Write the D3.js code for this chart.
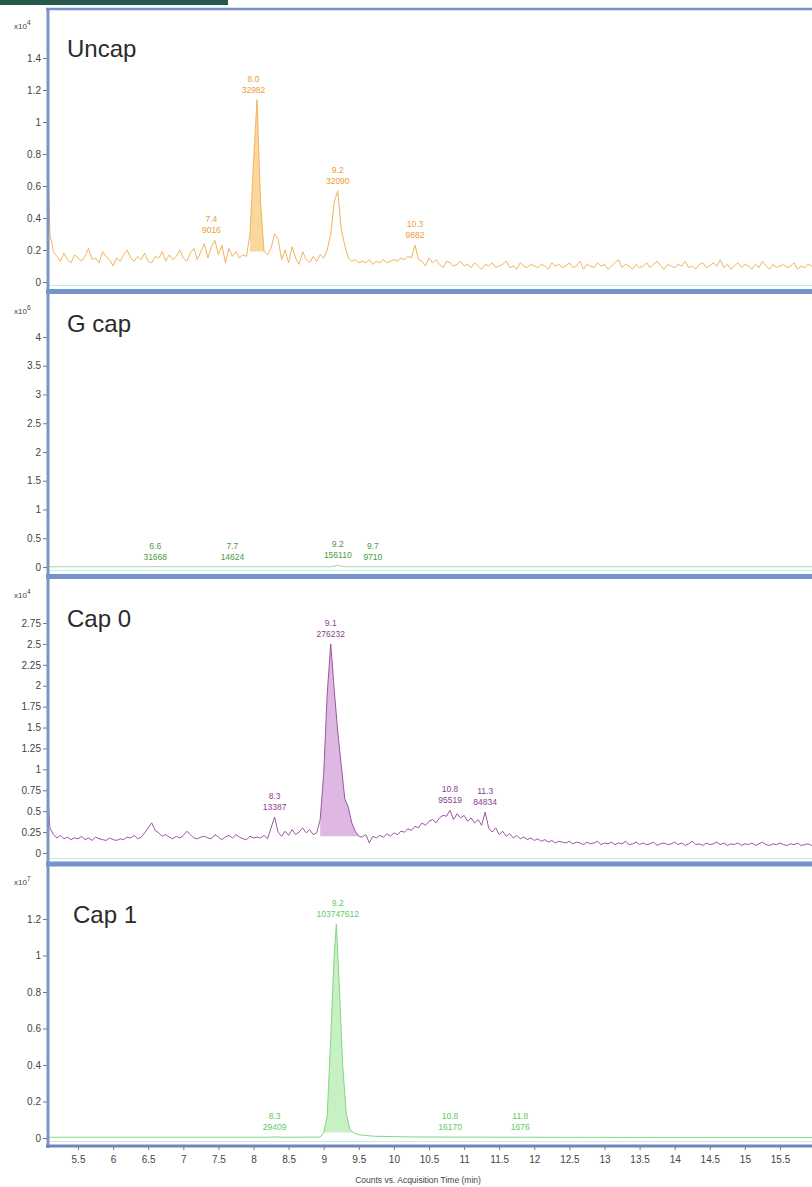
<!DOCTYPE html>
<html>
<head>
<meta charset="utf-8">
<script src="https://cdn.jsdelivr.net/npm/d3@7"></script>
<style>
  body { margin: 0; background: #fff; }
  text { font-family: "Liberation Sans", Arial, sans-serif; }
</style>
</head>
<body>
<svg id="chart"></svg>
<script>
const width = 812, height = 1187;

// the two noisy traces are read on a regular time grid (min)
const gridStart = 5.05, gridStep = 0.05;

// Uncap, counts x10^4
const uncapCounts = [
  1.12, 0.30, 0.19, 0.16, 0.13, 0.18, 0.14, 0.12, 0.17, 0.15,
  0.13, 0.16, 0.21, 0.14, 0.15, 0.12, 0.19, 0.16, 0.14, 0.10,
  0.15, 0.13, 0.17, 0.20, 0.15, 0.13, 0.16, 0.14, 0.18, 0.13,
  0.12, 0.16, 0.15, 0.19, 0.13, 0.17, 0.14, 0.16, 0.20, 0.15,
  0.13, 0.18, 0.21, 0.14, 0.19, 0.24, 0.15, 0.22, 0.26, 0.17,
  0.23, 0.12, 0.21, 0.16, 0.19, 0.15, 0.17, 0.16, 0.30, 0.75,
  1.14, 0.50, 0.19, 0.17, 0.21, 0.30, 0.27, 0.14, 0.20, 0.12,
  0.22, 0.15, 0.11, 0.19, 0.14, 0.12, 0.16, 0.13, 0.17, 0.15,
  0.20, 0.30, 0.50, 0.57, 0.33, 0.23, 0.15, 0.13, 0.14, 0.12,
  0.13, 0.12, 0.14, 0.11, 0.13, 0.12, 0.14, 0.12, 0.13, 0.14,
  0.13, 0.15, 0.14, 0.16, 0.15, 0.23, 0.14, 0.13, 0.10, 0.15,
  0.12, 0.14, 0.11, 0.09, 0.13, 0.12, 0.10, 0.11, 0.13, 0.10,
  0.11, 0.09, 0.12, 0.10, 0.08, 0.11, 0.10, 0.12, 0.09, 0.10,
  0.11, 0.13, 0.09, 0.10, 0.08, 0.12, 0.10, 0.09, 0.11, 0.10,
  0.09, 0.11, 0.10, 0.08, 0.12, 0.10, 0.11, 0.09, 0.10, 0.12,
  0.09, 0.10, 0.13, 0.08, 0.11, 0.10, 0.09, 0.12, 0.10, 0.11,
  0.08, 0.10, 0.12, 0.14, 0.09, 0.11, 0.10, 0.08, 0.11, 0.09,
  0.10, 0.12, 0.09, 0.11, 0.13, 0.10, 0.08, 0.11, 0.10, 0.09,
  0.11, 0.10, 0.13, 0.09, 0.10, 0.08, 0.11, 0.12, 0.09, 0.10,
  0.12, 0.10, 0.14, 0.09, 0.11, 0.08, 0.10, 0.12, 0.09, 0.11,
  0.10, 0.08, 0.11, 0.09, 0.13, 0.10, 0.08, 0.11, 0.09, 0.10,
  0.11, 0.09, 0.10, 0.12, 0.08, 0.10, 0.09, 0.11, 0.10, 0.09
];

// Cap 0, counts x10^4
const cap0Counts = [
  0.95, 0.30, 0.22, 0.18, 0.21, 0.17, 0.19, 0.16, 0.18, 0.17,
  0.20, 0.16, 0.18, 0.15, 0.19, 0.17, 0.16, 0.15, 0.18, 0.16,
  0.15, 0.17, 0.16, 0.19, 0.18, 0.21, 0.17, 0.19, 0.24, 0.30,
  0.36, 0.27, 0.24, 0.20, 0.22, 0.19, 0.17, 0.20, 0.18, 0.21,
  0.26, 0.22, 0.18, 0.17, 0.19, 0.20, 0.18, 0.17, 0.22, 0.19,
  0.16, 0.19, 0.21, 0.18, 0.22, 0.19, 0.17, 0.16, 0.20, 0.18,
  0.19, 0.18, 0.21, 0.17, 0.30, 0.43, 0.25, 0.20, 0.26, 0.21,
  0.28, 0.22, 0.25, 0.30, 0.24, 0.28, 0.22, 0.24, 0.40, 0.95,
  1.90, 2.50, 1.95, 1.45, 1.05, 0.65, 0.55, 0.36, 0.26, 0.20,
  0.19, 0.22, 0.12, 0.20, 0.18, 0.21, 0.19, 0.23, 0.20, 0.24,
  0.22, 0.26, 0.25, 0.29, 0.27, 0.32, 0.30, 0.36, 0.33, 0.38,
  0.40, 0.36, 0.42, 0.45, 0.44, 0.51, 0.40, 0.47, 0.42, 0.45,
  0.38, 0.42, 0.36, 0.40, 0.33, 0.49, 0.30, 0.25, 0.30, 0.22,
  0.26, 0.20, 0.23, 0.18, 0.21, 0.17, 0.19, 0.16, 0.18, 0.15,
  0.17, 0.14, 0.16, 0.13, 0.15, 0.12, 0.14, 0.13, 0.12, 0.14,
  0.11, 0.13, 0.12, 0.10, 0.13, 0.11, 0.12, 0.14, 0.10, 0.12,
  0.11, 0.13, 0.10, 0.12, 0.11, 0.14, 0.10, 0.11, 0.13, 0.10,
  0.12, 0.10, 0.11, 0.13, 0.09, 0.11, 0.12, 0.10, 0.11, 0.13,
  0.10, 0.12, 0.09, 0.11, 0.14, 0.10, 0.11, 0.09, 0.12, 0.10,
  0.11, 0.13, 0.10, 0.12, 0.09, 0.11, 0.10, 0.12, 0.09, 0.11,
  0.10, 0.12, 0.09, 0.11, 0.13, 0.10, 0.09, 0.11, 0.10, 0.12,
  0.10, 0.09, 0.11, 0.10, 0.12, 0.09, 0.10, 0.11, 0.09, 0.10
];

// G cap, [time, counts x10^6]
const gcapTrace = [
  [5.05, 0.004], [6.55, 0.004], [6.6, 0.008], [6.65, 0.004], [7.65, 0.004],
  [7.7, 0.006], [7.75, 0.004], [9.1, 0.004], [9.2, 0.03], [9.3, 0.004],
  [9.65, 0.004], [9.7, 0.006], [9.75, 0.004], [16, 0.004]
];

// Cap 1, [time, counts x10^7]
const cap1Trace = [
  [5.05, 0.004], [8.2, 0.004], [8.3, 0.006], [8.4, 0.004], [8.95, 0.005],
  [9.0, 0.03], [9.05, 0.12], [9.1, 0.55], [9.15, 1.0], [9.18, 1.17],
  [9.22, 0.85], [9.27, 0.4], [9.32, 0.14], [9.37, 0.05], [9.42, 0.03],
  [9.5, 0.018], [9.7, 0.01], [10.2, 0.006], [10.8, 0.005], [11.8, 0.004], [16, 0.003]
];

// peak annotations: retention time / area
const uncapPeaks = [[7.4, "9016"], [8.0, "32982"], [9.2, "32090"], [10.3, "9882"]];
const gcapPeaks = [[6.6, "31668"], [7.7, "14624"], [9.2, "156110"], [9.7, "9710"]];
const cap0Peaks = [[8.3, "13387"], [9.1, "276232"], [10.8, "95519"], [11.3, "84834"]];
const cap1Peaks = [[8.3, "29409"], [9.2, "103747612"], [10.8, "16170"], [11.8, "1676"]];

// shaded (integrated) peaks
const uncapFill = [7.95, 8.15];
const cap0Fill = [8.92, 9.5];
const cap1Fill = [8.97, 9.45];

const xTicks = [5.5, 6, 6.5, 7, 7.5, 8, 8.5, 9, 9.5, 10, 10.5, 11, 11.5, 12, 12.5, 13, 13.5, 14, 14.5, 15, 15.5];
const uncapTicks = [0, 0.2, 0.4, 0.6, 0.8, 1, 1.2, 1.4];
const gcapTicks = [0, 0.5, 1, 1.5, 2, 2.5, 3, 3.5, 4];
const cap0Ticks = [0, 0.25, 0.5, 0.75, 1, 1.25, 1.5, 1.75, 2, 2.25, 2.5, 2.75];
const cap1Ticks = [0, 0.2, 0.4, 0.6, 0.8, 1, 1.2];

const titles = ["Uncap", "G cap", "Cap 0", "Cap 1"];
const exponents = ["4", "6", "4", "7"];

const toPairs = arr => arr.map((v, i) => [gridStart + i * gridStep, v]);

const panels = [
  {title: titles[0], exp: exponents[0], data: toPairs(uncapCounts), ticks: uncapTicks, peaks: uncapPeaks, fill: uncapFill,
   top: 10, bottom: 289, zero: 282, tickTop: 58, line: "#f2b45c", area: "#f8d08e", label: "#ee9c36", titleX: 67, titleY: 57},
  {title: titles[1], exp: exponents[1], data: gcapTrace, ticks: gcapTicks, peaks: gcapPeaks, fill: null,
   top: 295, bottom: 574, zero: 567, tickTop: 337, line: "#9fd8a0", area: null, label: "#4a9a45", titleX: 67, titleY: 332},
  {title: titles[2], exp: exponents[2], data: toPairs(cap0Counts), ticks: cap0Ticks, peaks: cap0Peaks, fill: cap0Fill,
   top: 579, bottom: 862, zero: 853, tickTop: 623, line: "#9a58a0", area: "#d8aadd", label: "#8c3e8e", titleX: 67, titleY: 627},
  {title: titles[3], exp: exponents[3], data: cap1Trace, ticks: cap1Ticks, peaks: cap1Peaks, fill: cap1Fill,
   top: 866, bottom: 1145, zero: 1138, tickTop: 919, line: "#80d880", area: "#bdeeb9", label: "#62c862", titleX: 73, titleY: 923}
];

const x = d3.scaleLinear().domain([5.5, 15.5]).range([78, 780]);
const plotLeft = 49, plotRight = width;

const svg = d3.select("#chart")
  .attr("width", width)
  .attr("height", height)
  .attr("viewBox", [0, 0, width, height]);

svg.append("rect").attr("width", width).attr("height", height).attr("fill", "#fff");

// dark header strip
svg.append("rect").attr("x", 0).attr("y", 0).attr("width", 228).attr("height", 5).attr("fill", "#25594a");

panels.forEach((p, k) => {
  const yMax = p.ticks[p.ticks.length - 1];
  const y = d3.scaleLinear().domain([0, yMax]).range([p.zero, p.tickTop]);

  const clipId = "clip" + k;
  svg.append("clipPath").attr("id", clipId)
    .append("rect")
    .attr("x", plotLeft).attr("y", p.top)
    .attr("width", plotRight - plotLeft).attr("height", p.bottom - p.top);

  const g = svg.append("g").attr("clip-path", `url(#${clipId})`);

  // light bottom edge of the plot area
  g.append("line")
    .attr("x1", plotLeft).attr("x2", plotRight)
    .attr("y1", p.bottom - 3.5).attr("y2", p.bottom - 3.5)
    .attr("stroke", "#c4e8f0").attr("stroke-width", 1);

  if (p.fill) {
    const sub = p.data.filter(d => d[0] >= p.fill[0] && d[0] <= p.fill[1]);
    g.append("path")
      .datum(sub)
      .attr("fill", p.area)
      .attr("opacity", 0.85)
      .attr("d", d3.area().x(d => x(d[0])).y0(y(0.15 * 0)).y1(d => y(d[1])).curve(d3.curveLinear)
        .y0(() => y(Math.min(sub[0][1], sub[sub.length - 1][1]))));
  }

  g.append("path")
    .datum(p.data)
    .attr("fill", "none")
    .attr("stroke", p.line)
    .attr("stroke-width", 1)
    .attr("stroke-linejoin", "round")
    .attr("d", d3.line().x(d => x(d[0])).y(d => y(d[1])));

  // peak labels
  const lab = g.selectAll(".peak")
    .data(p.peaks)
    .join("g")
    .attr("class", "peak")
    .attr("transform", d => {
      const near = p.data.filter(e => Math.abs(e[0] - d[0]) <= 0.08).map(e => e[1]);
      const top = d3.max(near) || 0;
      return `translate(${x(d[0])},${y(top) - 7})`;
    })
    .attr("fill", p.label)
    .attr("font-size", 8.5)
    .attr("text-anchor", "middle");
  lab.append("text").attr("y", -11).text(d => d[0].toFixed(1));
  lab.append("text").attr("y", 0).text(d => d[1]);

  // y axis
  const ax = svg.append("g")
    .attr("transform", `translate(${plotLeft - 2},0)`)
    .call(d3.axisLeft(y).tickValues(p.ticks).tickSize(4).tickPadding(2).tickFormat(d => String(d)));
  ax.select(".domain").remove();
  ax.selectAll(".tick line").attr("stroke", "#777");
  ax.selectAll(".tick text").attr("fill", "#444").attr("font-size", 10)
    .attr("font-family", "'Liberation Sans', Arial, sans-serif");

  // exponent label
  const ex = svg.append("text")
    .attr("x", 14).attr("y", p.top + 19)
    .attr("font-size", 8).attr("fill", "#444");
  ex.append("tspan").text("x10");
  ex.append("tspan").attr("dy", -4).attr("font-size", 6.5).text(p.exp);

  // panel title
  svg.append("text")
    .attr("x", p.titleX).attr("y", p.titleY)
    .attr("font-family", "'Noto Sans', 'Open Sans', sans-serif")
    .attr("font-size", 24)
    .attr("fill", "#2b2b2b")
    .text(p.title);
});

// frame: top rule, left rule, separators
const frame = "#7393cb";
svg.append("line").attr("x1", 46).attr("x2", width).attr("y1", 9).attr("y2", 9)
  .attr("stroke", frame).attr("stroke-width", 2.5);
[291.5, 576.5, 864].forEach(yy => {
  svg.append("line").attr("x1", 46).attr("x2", width).attr("y1", yy).attr("y2", yy)
    .attr("stroke", frame).attr("stroke-width", 5);
});
svg.append("line").attr("x1", 48).attr("x2", 48).attr("y1", 8).attr("y2", 1148)
  .attr("stroke", "#7d95c6").attr("stroke-width", 3);

// x axis
const xa = svg.append("g")
  .attr("transform", "translate(0,1146)")
  .call(d3.axisBottom(x).tickValues(xTicks).tickSize(4).tickPadding(6).tickFormat(d => String(d)));
xa.select(".domain").remove();
xa.selectAll(".tick line").attr("stroke", "#777");
xa.selectAll(".tick text").attr("fill", "#444").attr("font-size", 10)
  .attr("font-family", "'Liberation Sans', Arial, sans-serif");
svg.append("line").attr("x1", 46).attr("x2", width).attr("y1", 1146).attr("y2", 1146)
  .attr("stroke", "#6f86b8").attr("stroke-width", 3);

svg.append("text")
  .attr("x", 418).attr("y", 1183)
  .attr("text-anchor", "middle")
  .attr("font-size", 8.5).attr("fill", "#444")
  .text("Counts vs. Acquisition Time (min)");
</script>
</body>
</html>
